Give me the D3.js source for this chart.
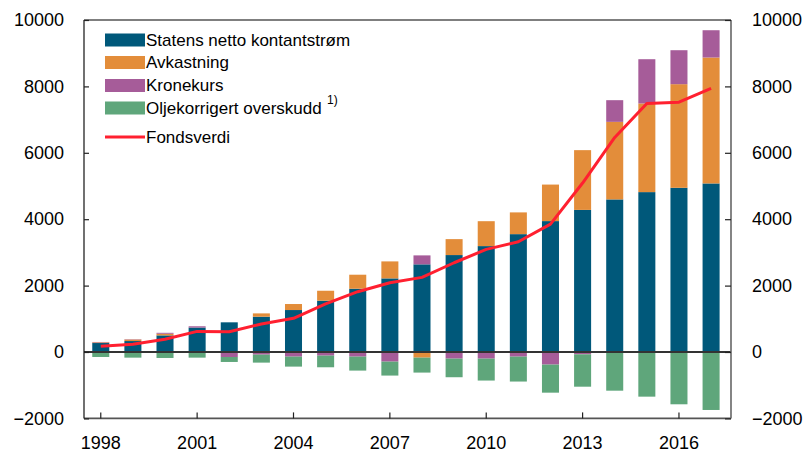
<!DOCTYPE html>
<html>
<head>
<meta charset="utf-8">
<script src="https://cdn.jsdelivr.net/npm/d3@7"></script>
<style>
  html, body { margin: 0; padding: 0; background: #fff; }
  svg { display: block; }
  text { font-family: "Liberation Sans", Arial, Helvetica, sans-serif; fill: #000; }
</style>
</head>
<body>
<svg id="chart" width="808" height="454"></svg>
<script>
// ---- Data (milliarder kroner) ----
const years = [1998,1999,2000,2001,2002,2003,2004,2005,2006,2007,2008,2009,2010,2011,2012,2013,2014,2015,2016,2017];
const nettoKontantstrom = [270,330,500,735,894,1063,1264,1545,1906,2217,2640,2920,3190,3550,3943,4280,4596,4816,4946,5077];
const avkastning        = [20,45,50,0,0,100,181,300,422,512,-170,480,750,655,1100,1800,2336,2670,3121,3793];
const kronekurs         = [12,10,28,40,-150,-80,-140,-110,-140,-290,270,-200,-200,-140,-380,-70,653,1333,1023,822];
const oljekorrigert     = [-150,-170,-180,-170,-150,-240,-300,-350,-420,-420,-450,-560,-660,-750,-845,-975,-1165,-1345,-1575,-1746];
const fondsverdi        = [170,232,382,620,611,843,1014,1450,1816,2087,2248,2688,3091,3320,3853,5090,6463,7486,7525,7937];
const yTicks = [-2000,0,2000,4000,6000,8000,10000];
const xTickYears = [1998,2001,2004,2007,2010,2013,2016];
const seriesKeys = ["netto","avk","krone","olje"];
const seriesNames = ["Statens netto kontantstrøm","Avkastning","Kronekurs","Oljekorrigert overskudd"];
const lineName = "Fondsverdi";

// ---- Layout ----
const L = 84, R = 731, T = 20, B = 418.4;
const colors = {netto:"#00587A", avk:"#E38D3A", krone:"#A65C99", olje:"#5FA67B"};
const lineColor = "#FF2030";

const svg = d3.select("#chart");

const x = d3.scaleBand().domain(years).range([L, R])
  .paddingInner(0.47).paddingOuter(0.306).align(0.42);
const y = d3.scaleLinear().domain([-2000, 10000]).range([B, T]);

const table = years.map((yr, i) => ({
  year: yr,
  netto: nettoKontantstrom[i],
  avk: avkastning[i],
  krone: kronekurs[i],
  olje: oljekorrigert[i]
}));

const stack = d3.stack().keys(seriesKeys)
  .order(d3.stackOrderNone).offset(d3.stackOffsetDiverging);
const layers = stack(table);

// Bars
svg.append("g").selectAll("g").data(layers).join("g")
  .attr("fill", d => colors[d.key])
  .selectAll("rect").data(d => d).join("rect")
  .attr("x", d => x(d.data.year))
  .attr("width", x.bandwidth())
  .attr("y", d => y(Math.max(d[0], d[1])))
  .attr("height", d => Math.abs(y(d[0]) - y(d[1])));

// Zero line
svg.append("line")
  .attr("x1", L).attr("x2", R).attr("y1", y(0)).attr("y2", y(0))
  .attr("stroke", "#333").attr("stroke-width", 2);

// Fondsverdi line
const line = d3.line()
  .x((d, i) => x(years[i]) + x.bandwidth() / 2)
  .y(d => y(d));
svg.append("path").datum(fondsverdi)
  .attr("d", line).attr("fill", "none")
  .attr("stroke", lineColor).attr("stroke-width", 3)
  .attr("stroke-linejoin", "round");

// Frame
svg.append("line").attr("x1", L).attr("x2", R).attr("y1", T).attr("y2", T)
  .attr("stroke", "#555").attr("stroke-width", 1.6);
svg.append("line").attr("x1", L).attr("x2", R).attr("y1", B).attr("y2", B)
  .attr("stroke", "#555").attr("stroke-width", 1.6);
svg.append("line").attr("x1", R).attr("x2", R).attr("y1", T).attr("y2", B)
  .attr("stroke", "#666").attr("stroke-width", 1.6);
svg.append("line").attr("x1", L).attr("x2", L).attr("y1", T).attr("y2", B)
  .attr("stroke", "#111").attr("stroke-width", 1.2);

// Axes
const fmt = d3.format("d");
const yLeft = svg.append("g").attr("transform", `translate(${L},0)`)
  .call(d3.axisLeft(y).tickValues(yTicks).tickFormat(fmt).tickSize(-5).tickPadding(20));
const yRight = svg.append("g").attr("transform", `translate(${R},0)`)
  .call(d3.axisRight(y).tickValues(yTicks).tickFormat(fmt).tickSize(-6).tickPadding(21));
const xAxis = svg.append("g").attr("transform", `translate(0,${B})`)
  .call(d3.axisBottom(x).tickValues(xTickYears).tickSize(-6).tickPadding(18));
[yLeft, yRight, xAxis].forEach(g => {
  g.select(".domain").remove();
  g.selectAll(".tick line").attr("stroke", "#222").attr("stroke-width", 1.2);
  g.selectAll(".tick text").attr("font-size", 18)
    .attr("font-family", '"Liberation Sans", Arial, sans-serif').attr("fill", "#000");
});

// Legend
const legend = svg.append("g");
const rowsY = [40, 62.5, 85.5, 108];
seriesKeys.forEach((k, i) => {
  legend.append("rect").attr("x", 105).attr("y", rowsY[i] - 6.5)
    .attr("width", 40).attr("height", 13).attr("fill", colors[k]);
  legend.append("text").attr("x", 146).attr("y", rowsY[i]).attr("dy", "0.35em")
    .attr("font-size", 17).text(seriesNames[i]);
});
legend.append("text").attr("x", 327).attr("y", 100).attr("dy", "0.35em")
  .attr("font-size", 12).text("1)");
legend.append("line").attr("x1", 105).attr("x2", 145).attr("y1", 137).attr("y2", 137)
  .attr("stroke", lineColor).attr("stroke-width", 3);
legend.append("text").attr("x", 146).attr("y", 137).attr("dy", "0.35em")
  .attr("font-size", 17).text(lineName);
</script>
</body>
</html>
